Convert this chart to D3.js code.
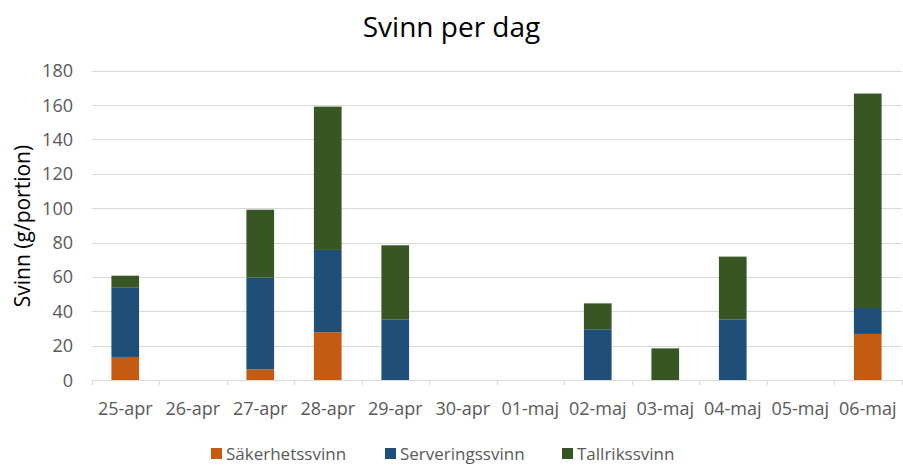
<!DOCTYPE html>
<html><head><meta charset="utf-8">
<script src="https://cdn.jsdelivr.net/npm/d3@7"></script>
<style>body{margin:0;background:#fff}svg{display:block}</style>
</head><body>
<svg id="c" width="903" height="467"></svg>
<script>
const categories = ["25-apr","26-apr","27-apr","28-apr","29-apr","30-apr","01-maj","02-maj","03-maj","04-maj","05-maj","06-maj"];
const seriesNames = ["Säkerhetssvinn","Serveringssvinn","Tallrikssvinn"];
const sakerhetssvinn = [13.4,0,6.2,27.8,0,0,0,0,0,0,0,26.8];
const serveringssvinn = [40.3,0,53.4,47.9,35.3,0,0,29.5,0,35.3,0,15.1];
const tallrikssvinn = [7.0,0,39.5,83.4,43.1,0,0,15.1,18.4,36.5,0,124.8];
const yTicks = [0,20,40,60,80,100,120,140,160,180];
const colors = ["#C55A11","#1F4E79","#375623"];

const svg = d3.select("#c");
const font = "'Open Sans', sans-serif";
const m = {left:91.5, right:901.5, top:70.7, bottom:380};

const rows = categories.map((c,i)=>({cat:c, "Säkerhetssvinn":sakerhetssvinn[i], "Serveringssvinn":serveringssvinn[i], "Tallrikssvinn":tallrikssvinn[i]}));
const stack = d3.stack().keys(seriesNames)(rows);

const x = d3.scaleBand().domain(categories).range([m.left,m.right]).paddingInner(0.59).paddingOuter(0.295);
const xb = d3.scaleBand().domain(categories).range([m.left,m.right]);
const y = d3.scaleLinear().domain([0,180]).range([m.bottom,m.top]);

// gridlines
svg.append("g").selectAll("line").data(yTicks.filter(d=>d>0)).join("line")
  .attr("x1",m.left).attr("x2",m.right)
  .attr("y1",d=>Math.round(y(d))+0.5).attr("y2",d=>Math.round(y(d))+0.5)
  .attr("stroke","#d9d9d9").attr("stroke-width",1);

// y labels
svg.append("g").selectAll("text").data(yTicks).join("text")
  .attr("x",73).attr("y",d=>y(d)+6.5)
  .attr("text-anchor","end").attr("font-family",font).attr("font-size",18).attr("fill","#595959")
  .text(d=>d);

// bars
svg.append("g").selectAll("g").data(stack).join("g")
  .attr("fill",(d,i)=>colors[i])
  .selectAll("rect").data(d=>d.filter(p=>p[1]-p[0]>0)).join("rect")
  .attr("x",d=>x(d.data.cat)).attr("width",x.bandwidth())
  .attr("y",d=>y(d[1])).attr("height",d=>y(d[0])-y(d[1]));

// x axis
const xa = svg.append("g");
xa.append("line").attr("x1",m.left).attr("x2",m.right).attr("y1",m.bottom+0.5).attr("y2",m.bottom+0.5).attr("stroke","#d9d9d9");
const bounds = categories.map(c=>xb(c)).concat([m.right]);
xa.selectAll("line.t").data(bounds).join("line").attr("class","t")
  .attr("x1",d=>Math.round(d)+0.5).attr("x2",d=>Math.round(d)+0.5).attr("y1",m.bottom).attr("y2",m.bottom+5)
  .attr("stroke","#d9d9d9");
xa.selectAll("text").data(categories).join("text")
  .attr("x",d=>xb(d)+xb.bandwidth()/2).attr("y",415)
  .attr("text-anchor","middle").attr("font-family",font).attr("font-size",18).attr("fill","#595959")
  .text(d=>d);

// title
svg.append("text").attr("x",451.5).attr("y",37).attr("text-anchor","middle")
  .attr("font-family",font).attr("font-size",28).attr("fill","#000").text("Svinn per dag");

// y title
svg.append("text").attr("transform","translate(30,226) rotate(-90)").attr("text-anchor","middle")
  .attr("font-family",font).attr("font-size",21).attr("fill","#000").text("Svinn (g/portion)");

// legend
const lx = [211, 385, 562];
const lg = svg.append("g").selectAll("g").data(seriesNames).join("g")
  .attr("transform",(d,i)=>`translate(${lx[i]},448)`);
lg.append("rect").attr("width",11).attr("height",11).attr("fill",(d,i)=>colors[i]);
lg.append("text").attr("x",15).attr("y",12).attr("font-family",font).attr("font-size",17).attr("fill","#595959").text(d=>d);
</script>
</body></html>
